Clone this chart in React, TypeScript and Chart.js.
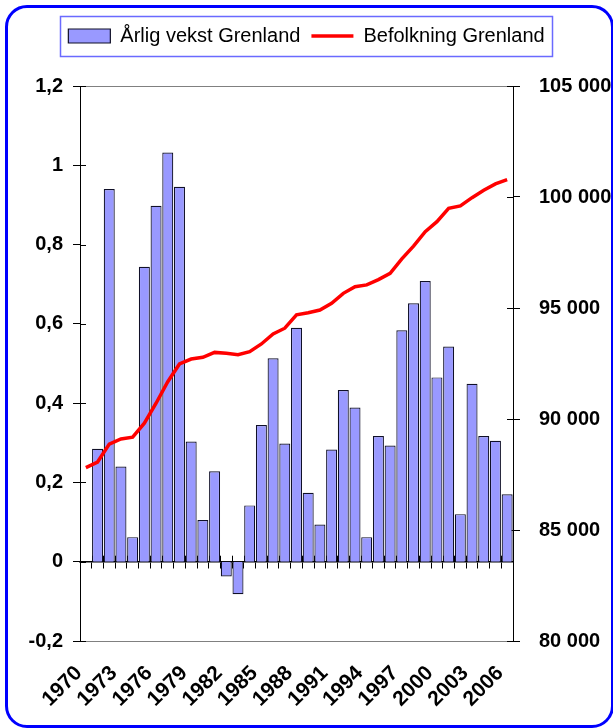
import React, { useEffect, useRef } from 'react';
import { Chart, registerables } from 'chart.js';

Chart.register(...registerables);

const FONT = "'Liberation Sans', Arial, sans-serif";

// Categories (1970-2006)
const years = [
  '1970', '1971', '1972', '1973', '1974', '1975', '1976', '1977', '1978', '1979',
  '1980', '1981', '1982', '1983', '1984', '1985', '1986', '1987', '1988', '1989',
  '1990', '1991', '1992', '1993', '1994', '1995', '1996', '1997', '1998', '1999',
  '2000', '2001', '2002', '2003', '2004', '2005', '2006',
];

// Population Grenland (right axis)
const population = [
  87810, 88060, 88870, 89100, 89180, 89810, 90710, 91680, 92480, 92700,
  92780, 93000, 92960, 92900, 93030, 93380, 93830, 94090, 94690, 94790,
  94910, 95210, 95660, 95960, 96040, 96280, 96560, 97210, 97790, 98440,
  98890, 99490, 99600, 99970, 100300, 100590, 100780,
];

// Annual growth (left axis), first year has no value
const growth = [
  null, 0.285, 0.94, 0.24, 0.062, 0.744, 0.898, 1.032, 0.946, 0.303,
  0.105, 0.228, -0.037, -0.082, 0.142, 0.345, 0.513, 0.298, 0.59, 0.174,
  0.094, 0.283, 0.433, 0.389, 0.062, 0.317, 0.293, 0.584, 0.652, 0.708,
  0.465, 0.543, 0.12, 0.449, 0.317, 0.305, 0.17,
];

const barLabel = 'Årlig vekst Grenland';
const lineLabel = 'Befolkning Grenland';

const decorPlugin = {
  id: 'decor',
  beforeDatasetsDraw(chart: any) {
    const { ctx, chartArea: a, scales } = chart;
    const y = scales.y;
    const y1 = scales.y1;
    const x = scales.x;
    ctx.save();
    ctx.strokeStyle = '#000';
    ctx.lineWidth = 1;
    ctx.beginPath();
    y.ticks.forEach((_: any, i: number) => {
      const p = Math.round(y.getPixelForTick(i)) + 0.5;
      ctx.moveTo(a.left, p);
      ctx.lineTo(a.left + 6, p);
    });
    y1.ticks.forEach((_: any, i: number) => {
      const p = Math.round(y1.getPixelForTick(i)) + 0.5;
      ctx.moveTo(a.right - 6, p);
      ctx.lineTo(a.right, p);
    });
    const y0 = y.getPixelForValue(0);
    for (let i = 0; i <= years.length; i++) {
      const px = Math.round(x.getPixelForValue(i - 0.5)) + 0.5;
      ctx.moveTo(px, y0 - 6);
      ctx.lineTo(px, y0);
    }
    ctx.stroke();
    ctx.restore();
  },
  afterDraw(chart: any) {
    const { ctx } = chart;
    const boxes = chart.legend && chart.legend.legendHitBoxes;
    if (!boxes || !boxes.length) return;
    let l = Infinity, r = -Infinity, t = Infinity, b = -Infinity;
    boxes.forEach((h: any) => {
      l = Math.min(l, h.left);
      r = Math.max(r, h.left + h.width);
      t = Math.min(t, h.top);
      b = Math.max(b, h.top + h.height);
    });
    ctx.save();
    ctx.strokeStyle = '#6a6aff';
    ctx.lineWidth = 1.5;
    ctx.strokeRect(Math.round(l - 8) + 0.5, Math.round(t - 10) + 0.5, Math.round(r - l + 16), Math.round(b - t + 20));
    ctx.restore();
  },
};

const fmtLeft = (v: any) => {
  const n = Number(Number(v).toFixed(1));
  return String(n).replace('.', ',');
};
const fmtRight = (v: any) => String(Math.round(Number(v))).replace(/\B(?=(\d{3})+(?!\d))/g, ' ');

export default function App() {
  const ref = useRef<HTMLCanvasElement | null>(null);

  useEffect(() => {
    if (!ref.current) return;
    const chart = new Chart(ref.current, {
      type: 'bar',
      data: {
        labels: years,
        datasets: [
          {
            type: 'bar',
            label: barLabel,
            data: growth as any,
            xAxisID: 'x',
            yAxisID: 'y',
            backgroundColor: '#9999ff',
            borderColor: '#101028',
            borderWidth: 1.2,
            barPercentage: 0.94,
            categoryPercentage: 1,
            grouped: false,
            pointStyle: 'rect',
            order: 1,
          } as any,
          {
            type: 'line',
            label: lineLabel,
            data: population,
            xAxisID: 'x',
            yAxisID: 'y1',
            borderColor: '#ff0000',
            backgroundColor: '#ff0000',
            borderWidth: 3.5,
            pointRadius: 0,
            tension: 0,
            pointStyle: 'line',
            order: 0,
          } as any,
        ],
      },
      options: {
        responsive: false,
        animation: false,
        devicePixelRatio: 1,
        layout: { padding: { top: 15, left: 0, right: 0, bottom: 0 } },
        plugins: {
          legend: {
            position: 'top',
            labels: {
              usePointStyle: true,
              pointStyleWidth: 42,
              boxHeight: 14,
              padding: 11,
              color: '#000',
              font: { family: FONT, size: 20 },
              sort: (a: any, b: any) => a.datasetIndex - b.datasetIndex,
            },
          },
          tooltip: { enabled: false },
        },
        scales: {
          x: {
            type: 'category',
            axis: 'x',
            offset: true,
            position: 'bottom',
            grid: { display: false, drawTicks: false, offset: true },
            border: { display: true, color: '#808080', width: 1 },
            ticks: {
              autoSkip: false,
              maxRotation: 45,
              minRotation: 45,
              padding: 20,
              labelOffset: -7,
              color: '#000',
              font: { family: FONT, size: 21, weight: 'bold' },
              callback: (_v: any, i: number) => (i % 3 === 0 ? years[i] : ''),
            },
            afterFit: (s: any) => { s.height = 87; },
          },
          x0: {
            type: 'category',
            axis: 'x',
            labels: years,
            offset: true,
            position: { y: 0 },
            grid: { offset: true, drawOnChartArea: false, drawTicks: true, tickLength: 6, color: '#000' },
            border: { display: true, color: '#000', width: 1.5 },
            ticks: { display: false },
          },
          xTop: {
            type: 'category',
            axis: 'x',
            labels: years,
            position: 'top',
            grid: { display: false, drawTicks: false },
            border: { display: true, color: '#808080', width: 1 },
            ticks: { display: false },
            afterFit: (s: any) => { s.height = 30; },
          },
          y: {
            type: 'linear',
            position: 'left',
            min: -0.2,
            max: 1.2,
            ticks: {
              stepSize: 0.2,
              padding: 10,
              color: '#000',
              font: { family: FONT, size: 20, weight: 'bold' },
              callback: fmtLeft,
            },
            grid: { drawOnChartArea: false, drawTicks: true, tickLength: 7, color: '#000' },
            border: { display: true, color: '#000', width: 1 },
            afterFit: (s: any) => { s.width = 80; },
          },
          y1: {
            type: 'linear',
            position: 'right',
            min: 80000,
            max: 105000,
            ticks: {
              stepSize: 5000,
              padding: 19,
              color: '#000',
              font: { family: FONT, size: 20, weight: 'bold' },
              callback: fmtRight,
            },
            grid: { drawOnChartArea: false, drawTicks: true, tickLength: 7, color: '#000' },
            border: { display: true, color: '#000', width: 1 },
            afterFit: (s: any) => { s.width = 100; },
          },
        },
      } as any,
      plugins: [decorPlugin as any],
    });
    return () => chart.destroy();
  }, []);

  return (
    <div
      style={{
        position: 'fixed',
        left: 0,
        top: 0,
        width: 613,
        height: 728,
        overflow: 'hidden',
        background: '#fff',
      }}
    >
      <div
        style={{
          position: 'absolute',
          left: 5,
          top: 5,
          width: 609,
          height: 723,
          boxSizing: 'border-box',
          border: '3px solid #0000ff',
          borderRadius: 22,
        }}
      />
      <canvas
        ref={ref}
        width={613}
        height={728}
        style={{ position: 'absolute', left: 0, top: 0, width: 613, height: 728 }}
      />
    </div>
  );
}
